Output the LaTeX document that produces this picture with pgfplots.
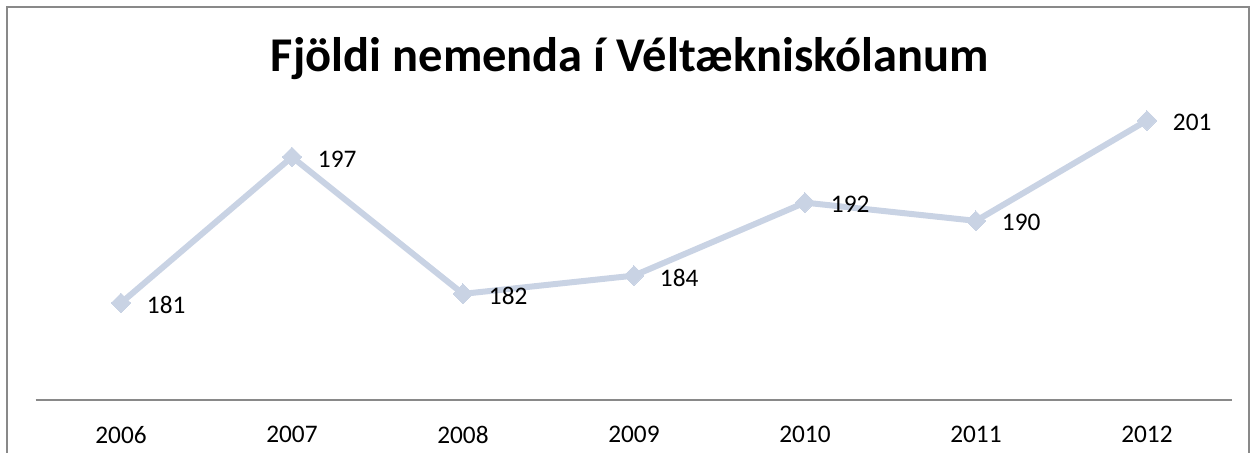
\documentclass[border=0pt]{standalone}
\usepackage{pgfplots}
\pgfplotsset{compat=1.18}
\usepackage{fontspec}
\setmainfont{Carlito}
\definecolor{linec}{RGB}{201,211,228}
\definecolor{axisc}{RGB}{137,137,137}
\begin{document}
\begin{tikzpicture}[x=1bp,y=1bp]
\useasboundingbox (0,0) rectangle (1258,453);
\draw[axisc, line width=1.6bp] (7,-2) -- (7,446) -- (1249,446) -- (1249,-2);
\node[anchor=base, font=\fontsize{48.5bp}{58bp}\selectfont\bfseries] at (630,381.3) {Fjöldi nemenda í Véltækniskólanum};
\begin{axis}[
  at={(35.5bp,53bp)}, anchor=south west,
  scale only axis, width=1197bp, height=316bp,
  xmin=-0.5, xmax=6.5, ymin=170.37, ymax=205,
  axis x line=bottom, axis y line=none,
  axis line style={axisc, line width=1.6bp, -},
  xtick={0,...,6},
  xticklabels={2006,2007,2008,2009,2010,2011,2012},
  major tick length=0pt,
  ytick=\empty,
  xticklabel style={anchor=north, inner sep=0pt, yshift=-26bp, font=\fontsize{25.3bp}{30bp}\selectfont},
  /pgf/number format/assume math mode=true,
  clip=false,
]
\addplot[linec, line width=6bp, mark=square*, mark size=7bp,
  mark options={rotate=45, line width=0pt, fill=linec, draw=linec},
  nodes near coords,
  every node near coord/.append style={anchor=west, inner sep=0pt, xshift=26bp, yshift=-2bp, black, font=\fontsize{25.3bp}{30bp}\selectfont},
  /pgf/number format/assume math mode=true,
] coordinates {(0,181) (1,197) (2,182) (3,184) (4,192) (5,190) (6,201)};
\end{axis}
\end{tikzpicture}
\end{document}
